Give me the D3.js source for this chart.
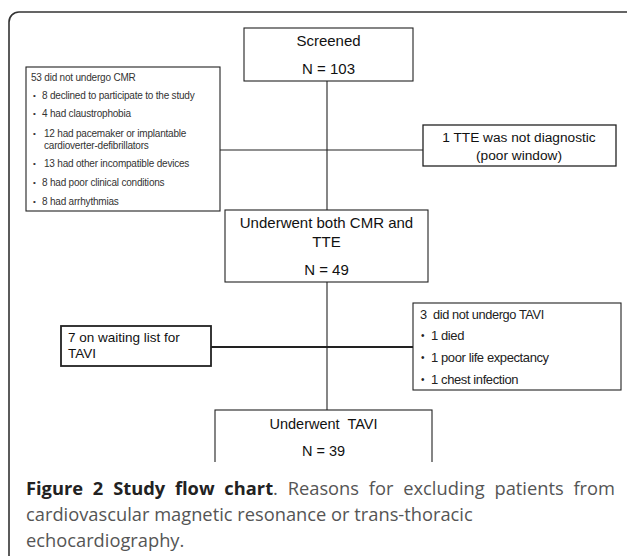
<!DOCTYPE html>
<html>
<head>
<meta charset="utf-8">
<script src="https://cdn.jsdelivr.net/npm/d3@7"></script>
<style>
  body { margin: 0; background: #fff; }
</style>
</head>
<body>
<div id="chart"></div>
<script>
// 流れの各段階
const stepLabels = [["Screened"], ["Underwent both CMR and", "TTE"], ["Underwent  TAVI"]];
const stepCounts = [103, 49, 39];

// 除外理由
const cmrExcluded = 53;
const cmrReasons = [
  ["8 declined to participate to the study"],
  ["4 had claustrophobia"],
  ["12 had pacemaker or implantable", "cardioverter-defibrillators"],
  ["13 had other incompatible devices"],
  ["8 had poor clinical conditions"],
  ["8 had arrhythmias"]
];
const tteExcluded = ["1 TTE was not diagnostic", "(poor window)"];
const waitingList = ["7 on waiting list for", "TAVI"];
const taviExcluded = 3;
const taviReasons = ["1 died", "1 poor life expectancy", "1 chest infection"];

const captionBold = "Figure 2 Study flow chart";
const captionLines = [
  ". Reasons for excluding patients from",
  "cardiovascular magnetic resonance or trans-thoracic",
  "echocardiography."
];

// 大きさを設定
const width = 627;
const height = 556;
const spineX = 327;
const clipBottom = 462;

const svg = d3.select('#chart')
  .append('svg')
  .attr('width', width)
  .attr('height', height)
  .style('font-family', '"Liberation Sans", Arial, sans-serif');

// 外枠
svg.append('rect')
  .attr('x', 9).attr('y', 12)
  .attr('width', 640).attr('height', 600)
  .attr('rx', 10).attr('ry', 10)
  .attr('fill', 'none')
  .attr('stroke', '#333')
  .attr('stroke-width', 1.6);

svg.append('clipPath').attr('id', 'flowclip')
  .append('rect').attr('x', 0).attr('y', 0).attr('width', width).attr('height', clipBottom);

const g = svg.append('g').attr('clip-path', 'url(#flowclip)');

// 箱の位置 (layout only)
const mainBoxes = [
  {x: 244, y: 28, w: 169, h: 53, rows: [41, 69], fs: 15},
  {x: 225, y: 210, w: 203, h: 72, rows: [223, 242, 270], fs: 15},
  {x: 215, y: 410, w: 217, h: 80, rows: [424, 451], fs: 14.5}
];

// 接続線
const lines = [
  [spineX, 81, spineX, 210],
  [220, 150, 423, 150],
  [spineX, 282, spineX, 410],
  [211, 347, 413, 347]
];
g.selectAll('line.link')
  .data(lines)
  .enter()
  .append('line')
  .attr('class', 'link')
  .attr('x1', d => d[0]).attr('y1', d => d[1])
  .attr('x2', d => d[2]).attr('y2', d => d[3])
  .attr('stroke', '#222')
  .attr('stroke-width', (d, i) => i === 3 ? 1.8 : 1.1);

function box(x, y, w, h, sw) {
  g.append('rect')
    .attr('x', x).attr('y', y).attr('width', w).attr('height', h)
    .attr('fill', '#fff')
    .attr('stroke', '#222')
    .attr('stroke-width', sw || 1.1);
}

// 中央の箱
mainBoxes.forEach((b, i) => {
  box(b.x, b.y, b.w, b.h);
  const texts = stepLabels[i].concat(['N = ' + stepCounts[i]]);
  g.selectAll(null)
    .data(texts)
    .enter()
    .append('text')
    .attr('x', b.x + b.w / 2)
    .attr('y', (d, j) => b.rows[j])
    .attr('dy', '0.35em')
    .attr('text-anchor', 'middle')
    .attr('font-size', b.fs)
    .attr('fill', '#111')
    .style('white-space', 'pre')
    .text(d => d);
});

// CMRの除外
box(26, 67, 194, 144);
g.append('text')
  .attr('x', 31).attr('y', 77).attr('dy', '0.35em')
  .attr('font-size', 10).attr('letter-spacing', -0.2).attr('fill', '#333')
  .text(cmrExcluded + ' did not undergo CMR');
const cmrRowY = [95, 113, 133, 163, 182, 201];
cmrReasons.forEach((r, i) => {
  g.append('text')
    .attr('x', 33).attr('y', cmrRowY[i]).attr('dy', '0.35em')
    .attr('font-size', 8).attr('fill', '#333')
    .text('•');
  r.forEach((line, j) => {
    g.append('text')
      .attr('x', i === 2 || i === 3 ? 44 : 42).attr('y', cmrRowY[i] + j * 12).attr('dy', '0.35em')
      .attr('font-size', 10).attr('letter-spacing', -0.2).attr('fill', '#333')
      .text(line);
  });
});

// TTE
box(423, 125, 193, 41, 1.3);
g.selectAll(null)
  .data(tteExcluded)
  .enter()
  .append('text')
  .attr('x', 519)
  .attr('y', (d, i) => 137 + i * 18)
  .attr('dy', '0.35em')
  .attr('text-anchor', 'middle')
  .attr('font-size', 13.7)
  .attr('fill', '#111')
  .text(d => d);

// 待機リスト
box(61, 326, 150, 40, 1.8);
g.selectAll(null)
  .data(waitingList)
  .enter()
  .append('text')
  .attr('x', 68)
  .attr('y', (d, i) => 337 + i * 16)
  .attr('dy', '0.35em')
  .attr('font-size', 13.5)
  .attr('fill', '#111')
  .text(d => d);

// TAVIの除外
box(413, 303, 208, 87);
g.append('text')
  .attr('x', 420).attr('y', 315).attr('dy', '0.35em')
  .attr('font-size', 12.8).attr('letter-spacing', -0.4).attr('fill', '#222')
  .style('white-space', 'pre')
  .text(taviExcluded + '  did not undergo TAVI');
taviReasons.forEach((r, i) => {
  const y = 335 + i * 22;
  g.append('text')
    .attr('x', 421).attr('y', y).attr('dy', '0.35em')
    .attr('font-size', 10).attr('fill', '#222')
    .text('•');
  g.append('text')
    .attr('x', 431).attr('y', y).attr('dy', '0.35em')
    .attr('font-size', 13).attr('letter-spacing', -0.4).attr('fill', '#222')
    .text(r);
});

// 図の説明
const cap = svg.append('g').style('font-family', '"Open Sans", sans-serif').attr('font-size', 18.3);
const first = cap.append('text').attr('x', 26).attr('y', 495);
first.append('tspan').attr('font-weight', 'bold').attr('fill', '#222').text(captionBold);
first.append('tspan').attr('fill', '#555').text(captionLines[0]);
// 一行目を両端揃え
const natural = first.node().getComputedTextLength();
const spaces = (captionBold + captionLines[0]).split(' ').length - 1;
first.attr('word-spacing', Math.max(0, (615 - 26 - natural) / spaces));

captionLines.slice(1).forEach((line, i) => {
  cap.append('text')
    .attr('x', 26)
    .attr('y', 521 + i * 26)
    .attr('fill', '#555')
    .text(line);
});
</script>
</body>
</html>
